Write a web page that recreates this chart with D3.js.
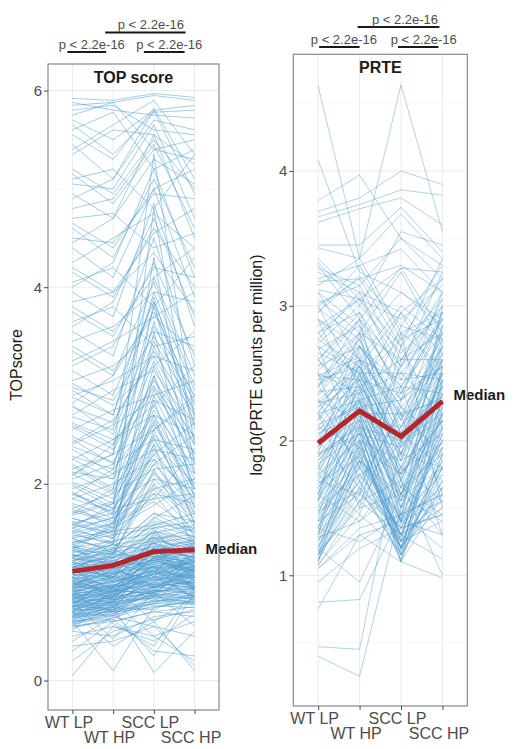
<!DOCTYPE html>
<html>
<head>
<meta charset="utf-8">
<title>TOP score / PRTE</title>
<script src="https://cdn.jsdelivr.net/npm/d3@7"></script>
<style>
    html, body { margin: 0; padding: 0; background: #fff; }
    svg { display: block; font-family: "Liberation Sans", Arial, Helvetica, sans-serif; }
    .tick text { fill: #4d4d4d; }
    .tick line { stroke: #4d4d4d; }
</style>
</head>
<body>
<svg id="chart" width="523" height="749"></svg>
<script>
// conditions on the x axis
var conditions = ["WT LP", "WT HP", "SCC LP", "SCC HP"];

// TOP score, one row per gene: WT LP, WT HP, SCC LP, SCC HP
var topScoreLines = [
    [5.92,5.90,5.97,5.93],[5.85,5.88,5.95,5.90],[5.88,5.80,5.75,5.72],[5.80,5.85,5.60,5.55],
    [5.75,5.88,5.40,5.30],[5.70,5.50,5.80,5.85],[5.60,5.78,5.20,5.40],[5.55,5.30,5.82,5.10],
    [5.45,5.10,5.70,5.60],[5.35,5.60,5.55,5.25],[5.20,4.95,5.50,5.00],[5.10,5.20,4.80,5.35],
    [5.05,5.00,5.65,4.70],[4.95,4.70,5.30,5.05],[4.80,4.90,5.45,4.60],[4.70,4.75,4.40,4.55],
    [4.60,4.30,5.10,4.20],[4.50,4.45,4.95,4.90],[4.40,4.10,5.00,3.90],[4.25,4.50,4.75,4.40],
    [4.15,3.90,4.60,4.00],[4.05,4.20,3.80,4.30],[3.95,3.70,4.85,3.60],[3.85,3.95,4.35,3.75],
    [3.75,3.50,4.20,4.10],[3.65,3.80,3.40,3.50],[3.55,3.30,4.50,3.20],[3.45,3.60,3.95,3.85],
    [3.35,3.10,4.05,3.00],[3.25,3.45,3.70,3.35],[3.15,2.90,3.85,2.80],[3.05,3.20,3.55,3.40],
    [2.95,2.70,3.90,2.60],[2.90,3.05,3.30,3.15],[2.80,2.50,3.60,2.90],[2.70,2.95,3.15,2.55],
    [2.60,2.40,3.45,2.75],[2.55,2.75,2.90,3.05],[2.45,2.20,3.25,2.40],[2.40,2.60,2.85,2.65],
    [2.35,2.10,3.10,2.20],[2.25,2.45,2.70,2.50],[2.20,1.95,2.95,2.30],[2.15,2.30,2.55,2.85],
    [2.10,1.90,2.80,2.05],[2.05,2.20,2.45,2.35],[2.00,1.80,2.65,1.95],[1.95,2.10,2.35,2.25],
    [1.90,1.75,2.50,2.10],[1.85,2.00,2.25,1.90],[1.80,1.65,2.40,2.00],[1.75,1.90,2.15,2.20],
    [1.72,1.60,2.30,1.85],[1.68,1.80,2.05,1.95],[1.65,1.55,2.20,1.75],[1.60,1.70,1.95,2.05],
    [1.58,1.50,2.10,1.70],[1.55,1.65,1.90,1.80],[1.52,1.45,2.00,1.65],[1.50,1.60,1.85,1.90],
    [1.62,1.48,2.35,1.78],[1.70,1.82,2.60,1.95],[1.78,1.55,2.90,2.10],[1.85,1.72,2.48,1.70],
    [1.92,1.68,3.20,2.30],[2.02,1.85,2.75,2.15],[2.12,2.05,3.40,2.45],[2.18,1.92,2.62,1.88],
    [2.28,2.15,3.65,2.60],[2.38,2.22,2.98,2.25],[2.48,2.30,3.80,2.70],[2.58,2.35,3.05,2.48],
    [2.68,2.55,3.95,2.95],[2.78,2.62,3.35,2.70],[2.88,2.70,4.10,3.10],[2.98,2.85,3.50,2.85],
    [1.55,1.40,1.98,1.60],[1.65,1.52,2.12,1.72],[1.46,1.60,2.25,1.55],[1.58,1.75,1.85,2.35],
    [1.40,1.55,1.78,2.05],[1.36,1.28,2.05,1.68],[1.52,1.66,2.45,1.82],[1.74,1.62,2.20,2.50],
    [1.88,2.15,2.70,2.00],[1.98,1.75,2.30,2.62],[2.08,2.40,3.00,2.40],[2.25,2.05,2.55,2.90],
    [2.42,2.65,3.30,2.58],[2.62,2.45,2.80,3.20],[2.82,3.10,3.75,2.88],[3.02,2.80,3.20,3.55],
    [3.20,3.40,4.25,3.30],[3.40,3.15,3.70,3.95],[3.60,3.85,4.70,3.70],[3.80,3.55,4.10,4.40],
    [4.00,4.25,5.20,4.10],[4.20,3.95,4.55,4.80],[4.45,4.70,5.55,4.50],[4.65,4.40,5.00,5.20],
    [4.90,5.10,5.80,4.95],[5.15,4.85,5.40,5.50],[5.40,5.65,5.90,5.35],[5.65,5.35,5.78,5.80],
    [1.25,1.45,1.90,1.40],[1.18,1.35,1.70,1.62],[1.32,1.58,1.82,1.50],[1.28,1.18,1.65,1.88],
    [1.45,1.30,2.55,1.60],[1.60,1.45,2.85,1.75],[1.38,1.52,3.10,1.95],[1.50,1.38,3.55,1.85],
    [1.20,1.42,2.40,1.30],[1.10,1.25,2.15,1.45],[1.70,1.95,4.30,2.20],[1.90,1.70,4.80,2.40],
    [2.10,2.30,5.35,2.65],[1.55,1.80,3.85,2.10],[1.35,1.60,2.70,1.58],[1.15,1.30,1.95,1.52],
    [1.48,1.40,1.62,1.55],[1.45,1.52,1.58,1.70],[1.42,1.35,1.70,1.50],[1.40,1.48,1.55,1.62],
    [1.38,1.30,1.66,1.45],[1.35,1.42,1.50,1.58],[1.33,1.28,1.60,1.52],[1.30,1.38,1.45,1.48],
    [1.28,1.22,1.56,1.40],[1.26,1.34,1.42,1.55],[1.24,1.20,1.52,1.38],[1.22,1.30,1.40,1.46],
    [1.20,1.15,1.48,1.35],[1.18,1.26,1.36,1.42],[1.16,1.12,1.44,1.30],[1.14,1.22,1.32,1.40],
    [1.12,1.08,1.40,1.28],[1.10,1.18,1.30,1.36],[1.08,1.05,1.35,1.25],[1.06,1.14,1.26,1.32],
    [1.05,1.00,1.30,1.22],[1.03,1.10,1.22,1.30],[1.02,0.98,1.28,1.20],[1.00,1.08,1.20,1.26],
    [0.98,0.95,1.24,1.16],[0.97,1.04,1.16,1.24],[0.95,0.92,1.20,1.12],[0.94,1.00,1.12,1.20],
    [0.92,0.90,1.16,1.10],[0.91,0.97,1.08,1.16],[0.90,0.88,1.12,1.06],[0.88,0.94,1.05,1.12],
    [0.87,0.85,1.08,1.04],[0.86,0.92,1.02,1.08],[0.85,0.83,1.05,1.00],[0.84,0.90,0.98,1.06],
    [0.82,0.80,1.02,0.98],[0.81,0.88,0.95,1.02],[0.80,0.78,0.98,0.95],[0.78,0.85,0.92,1.00],
    [0.77,0.76,0.95,0.92],[0.76,0.82,0.90,0.96],[0.75,0.74,0.92,0.90],[0.73,0.80,0.86,0.94],
    [0.72,0.72,0.88,0.86],[0.70,0.78,0.84,0.90],[0.68,0.70,0.85,0.84],[0.66,0.74,0.80,0.88],
    [0.64,0.68,0.82,0.80],[0.62,0.72,0.78,0.85],[0.60,0.66,0.78,0.78],[0.58,0.70,0.74,0.82],
    [1.30,0.95,1.10,1.45],[0.85,1.25,0.95,1.10],[1.15,0.80,1.35,0.95],[0.95,1.20,0.85,1.30],
    [1.25,1.05,0.80,1.15],[0.75,1.10,1.40,0.90],[1.05,0.85,1.50,1.20],[0.90,1.30,1.15,0.80],
    [1.35,1.15,0.95,1.05],[0.70,0.95,1.25,1.35],[1.10,1.40,1.05,0.85],[0.80,0.70,1.45,1.10],
    [1.40,1.00,1.20,0.95],[0.65,0.90,1.00,1.25],[1.20,0.75,1.10,1.40],[0.88,1.15,1.30,0.92],
    [1.00,0.82,0.90,1.35],[0.78,1.05,1.55,1.00],[1.12,0.92,0.88,1.18],[0.93,1.35,1.10,1.05],
    [1.02,0.88,1.18,1.10],[0.96,1.12,1.02,1.22],[1.08,0.94,1.25,1.05],[0.89,1.02,1.10,0.98],
    [1.15,1.05,1.38,1.22],[0.83,0.95,1.22,1.12],[0.99,0.86,1.06,1.28],[1.18,1.10,1.15,1.02],
    [0.74,0.88,1.04,0.96],[0.86,0.78,1.20,1.14],[1.26,1.12,1.28,1.18],[0.93,1.06,0.96,1.08],
    [0.79,0.92,1.14,1.04],[1.05,0.96,1.32,1.15],[0.71,0.84,0.94,1.02],[1.22,1.02,1.24,1.32],
    [0.84,0.98,0.90,1.15],[0.97,0.90,1.16,0.94],[1.32,1.20,1.46,1.28],[0.69,0.80,1.00,0.93],
    [0.91,1.08,1.24,1.10],[1.12,1.00,1.08,1.24],[0.76,0.87,0.86,1.08],[1.04,1.16,1.40,1.20],
    [0.88,0.82,1.00,1.18],[0.67,0.78,0.92,0.88],[1.36,1.25,1.52,1.42],[0.94,0.84,1.12,1.02],
    [1.09,1.20,1.18,1.12],[0.81,0.76,1.06,0.99],[0.63,0.75,0.88,0.82],[1.44,1.32,1.58,1.46],
    [0.98,1.12,1.34,1.26],[0.73,0.70,0.90,0.98],[1.16,1.26,1.22,1.38],[0.87,0.96,1.16,1.06],
    [0.59,0.68,0.82,0.77],[1.01,0.92,0.97,1.14],[0.82,0.90,1.26,1.16],[1.24,1.18,1.34,1.25],
    [0.66,0.82,0.96,1.00],[0.72,0.86,1.10,0.92],[0.78,0.96,1.02,1.10],[0.84,0.80,1.14,1.20],
    [0.90,1.02,1.30,1.06],[0.96,0.94,1.08,1.22],[1.02,1.14,1.22,1.14],[1.08,1.02,1.36,1.30],
    [1.14,1.28,1.26,1.20],[1.20,1.08,1.42,1.34],[1.26,1.38,1.32,1.44],[1.32,1.24,1.50,1.36],
    [0.62,0.76,0.86,0.92],[0.68,0.66,0.98,0.86],[0.74,0.92,0.88,1.04],[0.80,0.84,1.18,0.96],
    [0.86,1.06,0.94,1.16],[0.92,0.82,1.22,1.08],[0.98,1.10,1.04,1.24],[1.04,0.94,1.32,1.10],
    [1.10,1.22,1.14,1.34],[1.16,1.04,1.40,1.24],[1.22,1.32,1.20,1.40],[1.28,1.14,1.46,1.32],
    [0.70,0.86,1.08,0.84],[0.76,0.72,0.94,1.12],[0.82,1.00,1.12,0.94],[0.88,0.86,1.24,1.18],
    [0.94,1.08,0.98,1.20],[1.00,0.90,1.26,1.12],[1.06,1.18,1.10,1.28],[1.12,1.06,1.34,1.16],
    [0.60,0.72,0.90,0.94],[0.64,0.80,0.84,0.80],[0.57,0.66,0.80,0.86],[0.53,0.64,0.76,0.74],
    [0.56,0.74,0.72,0.90],[0.61,0.62,0.86,0.78],[0.65,0.70,0.78,0.96],[0.69,0.76,0.92,0.82],
    [0.55,0.60,0.70,0.75],[0.50,0.45,0.65,0.70],[0.45,0.55,0.40,0.68],[0.40,0.65,0.55,0.45],
    [0.30,0.60,0.70,0.65],[0.20,0.50,0.62,0.72],[0.05,0.55,0.45,0.60],[0.60,0.10,0.75,0.80],
    [0.70,0.35,0.60,0.85],[0.65,0.75,0.08,0.50],[0.85,0.70,0.25,0.90],[0.75,0.80,0.45,0.20],
    [0.50,0.95,0.60,0.10],[0.35,0.40,0.55,0.15],[0.55,0.62,0.30,0.25],[0.92,0.58,0.35,0.95],
    [0.80,0.42,0.90,0.55]
];
var topScoreMedian = [1.11, 1.17, 1.31, 1.33];

// log10(PRTE counts per million), one row per element
var prteLines = [
    [4.63,3.35,4.64,3.55],[4.08,3.25,3.10,2.90],[3.78,3.97,3.50,3.20],[3.70,3.80,4.00,3.90],
    [3.66,3.75,3.86,3.82],[3.62,3.72,3.80,3.60],[3.45,3.45,3.73,3.40],[3.43,3.35,3.68,3.35],
    [3.32,3.00,3.55,3.45],[3.28,3.15,3.50,3.30],[3.20,3.30,3.42,3.10],[3.12,3.05,3.28,3.25],
    [3.30,2.90,3.28,2.80],[3.25,3.10,2.95,3.20],[3.18,3.20,3.30,3.10],[3.05,2.80,3.25,2.70],
    [3.02,3.15,2.60,3.00],[2.98,2.75,3.10,2.85],[2.95,3.22,2.85,3.30],[2.90,2.60,3.00,2.75],
    [2.85,3.05,2.70,3.05],[2.80,2.95,2.50,2.90],[2.75,2.55,2.95,2.65],[2.72,3.00,2.65,2.95],
    [2.68,2.85,2.40,2.80],[2.65,2.50,2.80,2.55],[2.60,2.90,2.55,2.85],[2.55,2.70,2.30,2.75],
    [2.52,2.80,2.60,2.60],[2.48,2.45,2.75,2.90],[2.45,2.75,2.20,2.70],[2.42,2.60,2.45,2.50],
    [2.40,2.65,2.10,2.65],[2.36,2.40,2.60,2.80],[2.33,2.70,2.25,2.55],[2.30,2.55,2.00,2.60],
    [2.28,2.35,2.50,2.45],[2.25,2.60,2.15,2.70],[2.22,2.50,1.90,2.50],[2.20,2.30,2.40,2.35],
    [2.17,2.55,2.05,2.60],[2.15,2.45,1.85,2.45],[2.12,2.25,2.30,2.55],[2.10,2.48,1.95,2.40],
    [2.08,2.40,1.80,2.50],[2.05,2.20,2.20,2.30],[2.03,2.42,1.88,2.45],[2.00,2.35,1.75,2.35],
    [1.98,2.15,2.10,2.50],[1.95,2.38,1.80,2.25],[1.93,2.30,1.70,2.40],[1.90,2.10,2.00,2.20],
    [1.88,2.32,1.72,2.35],[1.85,2.25,1.65,2.15],[1.83,2.05,1.95,2.30],[1.80,2.28,1.60,2.10],
    [1.78,2.20,1.55,2.25],[1.75,2.00,1.85,2.05],[1.72,2.22,1.50,2.20],[1.70,2.15,1.45,2.00],
    [1.68,1.95,1.75,2.15],[1.65,2.18,1.40,1.95],[1.62,2.10,1.35,2.10],[1.60,1.90,1.65,1.90],
    [1.57,2.12,1.30,2.05],[1.55,2.05,1.25,1.85],[1.52,1.85,1.55,2.00],[1.50,2.08,1.20,1.80],
    [1.47,2.00,1.15,1.95],[1.45,1.80,1.45,1.75],[1.42,2.02,1.10,1.90],[1.40,1.95,1.25,1.70],
    [1.37,1.75,1.35,1.85],[1.35,1.98,1.15,1.65],[1.32,1.90,1.30,1.80],[1.30,1.70,1.25,1.60],
    [1.27,1.92,1.20,1.75],[1.25,1.85,1.40,1.55],[1.22,1.65,1.15,1.70],[1.20,1.88,1.30,1.50],
    [1.17,1.80,1.20,1.65],[1.15,1.60,1.35,1.45],[1.12,1.82,1.10,1.60],[1.10,1.75,1.25,1.40],
    [1.07,1.55,1.30,1.55],
    [2.95,3.30,2.75,3.20],[2.75,3.10,2.45,3.05],[2.55,2.90,2.35,2.95],[2.35,2.75,2.05,2.85],
    [2.15,2.60,1.90,2.75],[1.95,2.50,1.65,2.60],[1.75,2.40,1.45,2.55],[1.55,2.30,1.25,2.45],
    [1.35,2.20,1.15,2.35],[1.15,2.10,1.10,2.25],[1.10,2.00,1.20,2.15],[1.20,1.95,1.30,2.05],
    [1.30,2.15,1.40,2.20],[1.45,2.25,1.50,2.40],[1.60,2.35,1.60,2.30],[1.80,2.45,1.70,2.50],
    [2.00,2.55,1.85,2.65],[2.20,2.70,2.00,2.80],[2.40,2.80,2.15,2.95],[2.60,2.95,2.30,3.10],
    [2.80,3.05,2.55,3.25],[3.00,3.20,2.70,3.35],[1.25,1.70,1.12,1.90],[1.40,1.85,1.20,2.10],
    [1.65,2.05,1.28,2.30],[1.85,2.15,1.38,2.45],[2.05,2.30,1.55,2.55],[2.25,2.45,1.75,2.70],
    [2.45,2.55,1.95,2.85],[1.08,1.45,1.18,1.80],[1.12,1.65,1.35,2.00],[1.18,1.50,1.60,2.20],
    [1.50,1.75,1.90,2.60],[1.70,1.60,2.10,2.80],[1.90,2.05,2.35,2.90],[2.10,1.95,2.55,3.00],
    [2.30,2.15,2.85,2.75],[2.50,2.35,2.95,2.40],[2.70,2.50,2.50,2.20],[2.90,2.70,2.25,2.00],
    [3.10,2.85,2.05,1.80],[1.60,1.40,1.80,1.55],[1.80,1.55,2.00,1.70],[2.00,1.65,2.25,1.85],
    [2.20,1.85,1.60,1.95],[2.40,2.05,1.75,2.15],[2.60,2.30,2.05,2.35],[2.80,2.45,2.35,2.55],
    [1.35,1.25,1.45,1.60],[1.28,1.40,1.65,1.45],[1.48,1.62,1.22,1.50],[1.68,1.88,1.42,1.65],
    [1.88,2.12,1.58,1.80],[2.08,2.28,1.78,1.98],[2.28,2.52,1.98,2.15],[2.48,2.62,2.18,2.32],
    [3.35,3.05,2.90,3.15],[3.15,3.35,2.80,2.95],[1.05,1.35,1.45,1.20],[1.15,1.85,1.30,1.12],
    [2.70,1.90,2.40,1.60],[1.60,2.60,1.40,3.00],[2.90,2.20,1.60,2.50],[1.40,1.60,2.70,2.10],
    [2.50,1.70,2.20,1.30],[1.90,2.80,1.50,2.30],[3.00,2.40,2.00,2.70],[1.30,2.50,1.90,1.80],
    [2.20,1.50,2.60,3.10],[2.40,2.90,1.70,1.00],[1.75,1.45,2.30,2.60],[3.10,2.60,2.20,1.90],
    [1.55,2.70,2.40,2.90],[2.60,2.20,1.20,2.20],[1.15,1.55,1.70,1.30],[2.30,1.80,2.80,1.50],
    [0.47,0.45,2.00,2.40],[0.40,0.25,1.50,1.80],[0.75,1.30,1.40,1.30],[0.80,0.82,1.45,1.60],
    [1.05,1.30,1.10,0.98],[0.95,1.20,1.35,1.45],[1.20,0.95,1.60,1.40]
];
var prteMedian = [1.98, 2.22, 2.03, 2.29];

var leftTicks = [0, 2, 4, 6];
var rightTicks = [1, 2, 3, 4];

var svg = d3.select("#chart");
var lineColor = "#4b9bcf";
var medianColor = "#b5262b";

function drawPanel(p) {
    var x = d3.scalePoint().domain(conditions).range([p.left, p.right]).padding(0.6);
    var y = d3.scaleLinear().domain(p.yDomain).range([p.bottom, p.top]);
    var g = svg.append("g");

    // grid: minor, major and vertical
    var minor = [];
    for (var i = 0; i < p.ticks.length; i++) {
        minor.push(p.ticks[i] - p.tickStep / 2);
    }
    minor.push(p.ticks[p.ticks.length - 1] + p.tickStep / 2);
    minor = minor.filter(function(v) { return v > p.yDomain[0] && v < p.yDomain[1]; });

    g.selectAll(".minor").data(minor).enter().append("line")
        .attr("x1", p.left).attr("x2", p.right)
        .attr("y1", function(d) { return y(d); }).attr("y2", function(d) { return y(d); })
        .attr("stroke", "#f2f2f2").attr("stroke-width", 0.6);
    g.selectAll(".major").data(p.ticks).enter().append("line")
        .attr("x1", p.left).attr("x2", p.right)
        .attr("y1", function(d) { return y(d); }).attr("y2", function(d) { return y(d); })
        .attr("stroke", "#ebebeb").attr("stroke-width", 1);
    g.selectAll(".vgrid").data(conditions).enter().append("line")
        .attr("x1", function(d) { return x(d); }).attr("x2", function(d) { return x(d); })
        .attr("y1", p.top).attr("y2", p.bottom)
        .attr("stroke", "#ebebeb").attr("stroke-width", 1);

    // one line per gene
    var line = d3.line()
        .x(function(d, i) { return x(conditions[i]); })
        .y(function(d) { return y(d); });

    g.append("g").selectAll("path").data(p.lines).enter().append("path")
        .attr("d", line)
        .attr("fill", "none")
        .attr("stroke", lineColor)
        .attr("stroke-width", p.lineWidth)
        .attr("stroke-opacity", p.lineOpacity);

    // median
    g.append("path").datum(p.median)
        .attr("d", line)
        .attr("fill", "none")
        .attr("stroke", medianColor)
        .attr("stroke-width", 5)
        .attr("stroke-linejoin", "round");

    g.append("text")
        .attr("x", x(conditions[3]) + 11)
        .attr("y", y(p.median[3]) + p.labelDy)
        .attr("dy", "0.35em")
        .attr("font-size", 15).attr("font-weight", "bold").attr("fill", "#1a1a1a")
        .text("Median");

    // panel border
    g.append("rect")
        .attr("x", p.left).attr("y", p.top)
        .attr("width", p.right - p.left).attr("height", p.bottom - p.top)
        .attr("fill", "none").attr("stroke", "#7f7f7f").attr("stroke-width", 1.1);

    g.append("text")
        .attr("x", (p.left + p.right) / 2).attr("y", p.top + 19)
        .attr("text-anchor", "middle")
        .attr("font-size", 16).attr("font-weight", "bold").attr("fill", "#1a1a1a")
        .text(p.title);

    // axes
    var ya = g.append("g").attr("transform", "translate(" + p.left + ",0)")
        .call(d3.axisLeft(y).tickValues(p.ticks).tickSize(4).tickPadding(2).tickFormat(d3.format("d")));
    ya.select(".domain").remove();
    ya.selectAll("text").attr("font-size", 15).attr("font-family", null);

    var xa = g.append("g").attr("transform", "translate(0," + p.bottom + ")")
        .call(d3.axisBottom(x).tickSize(4).tickPadding(2));
    xa.select(".domain").remove();
    xa.selectAll("text")
        .attr("font-size", 16).attr("font-family", null)
        .attr("dx", -4)
        .attr("y", function(d, i) { return i % 2 === 0 ? 7 : 22; });

    g.append("text")
        .attr("transform", "translate(" + p.titleX + "," + p.titleY + ") rotate(-90)")
        .attr("text-anchor", "middle")
        .attr("font-size", 16).attr("fill", "#1a1a1a")
        .text(p.yLabel);

    // comparison brackets
    p.comparisons.forEach(function(c) {
        var x1 = x(conditions[c.a]) + c.d1, x2 = x(conditions[c.b]) + c.d2;
        g.append("line")
            .attr("x1", x1).attr("x2", x2).attr("y1", c.y).attr("y2", c.y)
            .attr("stroke", "#1a1a1a").attr("stroke-width", 2);
        g.append("text")
            .attr("x", (x(conditions[c.a]) + x(conditions[c.b])) / 2 + c.dt)
            .attr("y", c.y - 3.5)
            .attr("text-anchor", "middle")
            .attr("font-size", 13).attr("fill", "#4d4d4d")
            .text("p < 2.2e-16");
    });
}

drawPanel({
    left: 48, right: 219, top: 64, bottom: 710,
    yDomain: [-0.3, 6.27], ticks: leftTicks, tickStep: 2,
    lines: topScoreLines, median: topScoreMedian,
    lineWidth: 1, lineOpacity: 0.5, labelDy: -1,
    title: "TOP score", yLabel: "TOPscore", titleX: 22, titleY: 365,
    comparisons: [
        { a: 1, b: 3, d1: -8, d2: -9, dt: -3, y: 32.5 },
        { a: 0, b: 1, d1: -5, d2: -7, dt: -1, y: 52 },
        { a: 2, b: 3, d1: -10, d2: -10, dt: -5, y: 52 }
    ]
});

drawPanel({
    left: 293.3, right: 467.3, top: 54.3, bottom: 706,
    yDomain: [0.03, 4.866], ticks: rightTicks, tickStep: 1,
    lines: prteLines, median: prteMedian,
    lineWidth: 0.8, lineOpacity: 0.55, labelDy: -7,
    title: "PRTE", yLabel: "log10(PRTE counts per million)", titleX: 262, titleY: 365,
    comparisons: [
        { a: 1, b: 3, d1: -2, d2: -3, dt: 4, y: 27 },
        { a: 0, b: 1, d1: 1, d2: 0, dt: 5, y: 47 },
        { a: 2, b: 3, d1: -3, d2: -4, dt: 2, y: 47 }
    ]
});
</script>
</body>
</html>
